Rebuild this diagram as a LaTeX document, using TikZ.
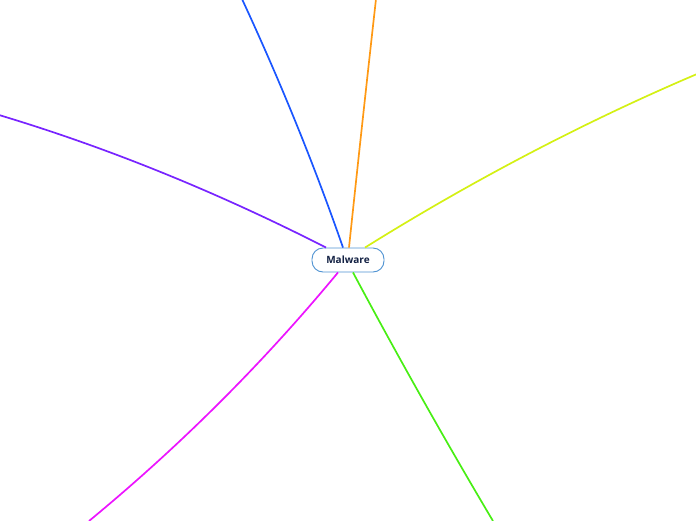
\documentclass[tikz,border=0pt]{standalone}
\usepackage{fontspec}
\setmainfont{Open Sans}
\usepackage{tikz}
\usetikzlibrary{calc}
\definecolor{mmblue}{RGB}{26,86,255}
\definecolor{mmorange}{RGB}{255,153,20}
\definecolor{mmyellow}{RGB}{212,240,20}
\definecolor{mmpurple}{RGB}{120,36,255}
\definecolor{mmmagenta}{RGB}{236,20,255}
\definecolor{mmgreen}{RGB}{72,238,20}
\definecolor{mmborder}{RGB}{78,146,210}
\definecolor{mmtext}{RGB}{20,34,68}
\newcommand{\branch}[4]{
	\draw[branchline, #1] (#2) .. controls ($(#2)!2/3!(#3)$) and ($(#4)!2/3!(#3)$) .. (#4);
}
\tikzset{
	rootnode/.style={draw=mmborder, line width=0.9pt, fill=white, rounded corners=11pt,
		minimum width=72pt, minimum height=24pt, inner sep=0pt,
		font=\bfseries\fontsize{10}{12}\selectfont, text=mmtext},
	branchline/.style={line width=1.7pt}
}

\begin{document}
\begin{tikzpicture}[x=1pt,y=-1pt]
	\useasboundingbox (0,0) rectangle (696,520);
	\node[rootnode] (mw) at (348,260) {Malware};

	\coordinate (N1) at (242,-1);
	\coordinate (N2) at (376,-1);
	\coordinate (N3) at (697,74);
	\coordinate (N4) at (-1,115);
	\coordinate (N5) at (89,521);
	\coordinate (N6) at (493,521);
	\coordinate (B1) at ([xshift=-5pt]mw.north);
	\coordinate (B2) at ([xshift=1pt]mw.north);
	\coordinate (B3) at ([xshift=17pt]mw.north);
	\coordinate (B4) at ([xshift=-22pt]mw.north);
	\coordinate (B5) at ([xshift=-10pt]mw.south);
	\coordinate (B6) at ([xshift=5pt]mw.south);

	\branch{mmblue}{B1}{300,124}{N1}
	\branch{mmorange}{B2}{362,124}{N2}
	\branch{mmyellow}{B3}{528,146}{N3}
	\branch{mmpurple}{B4}{162,164}{N4}
	\branch{mmmagenta}{B5}{226,408}{N5}
	\branch{mmgreen}{B6}{420,398}{N6}

\end{tikzpicture}
\end{document}
